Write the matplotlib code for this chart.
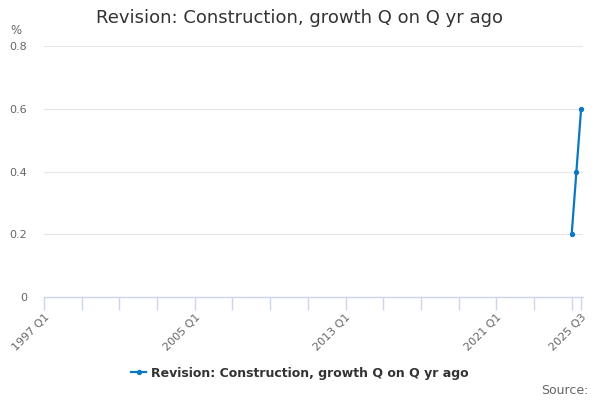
import matplotlib
matplotlib.use('Agg')
import matplotlib.pyplot as plt

# quarter categories on the axis
quarters = [f'{y} Q{q}' for y in range(1997, 2026) for q in range(1, 5)]
quarters = quarters[:quarters.index('2025 Q3') + 1]

# series data
periods = ['2025 Q1', '2025 Q2', '2025 Q3']
values = [0.2, 0.4, 0.6]

label_ticks = ['1997 Q1', '2005 Q1', '2013 Q1', '2021 Q1', '2025 Q3']
y_ticks = [0, 0.2, 0.4, 0.6, 0.8]

series_name = 'Revision: Construction, growth Q on Q yr ago'
line_color = '#0a78c2'
grey = '#666666'

fig = plt.figure(figsize=(6, 4), dpi=100)
ax = fig.add_axes([44 / 600, 103 / 400, 539 / 600, 251 / 400])

xs = [quarters.index(p) for p in periods]
ax.plot(xs, values, color=line_color, linewidth=1.6, marker='o', markersize=2.8,
        label=series_name, zorder=3, clip_on=False)

ax.set_xlim(0, len(quarters) - 0.6)
ax.set_ylim(0, 0.8)

# tick marks every 8 quarters plus the last one; labels on a subset
minor_pos = list(range(0, len(quarters), 8)) + [len(quarters) - 1]
ax.set_xticks(minor_pos, minor=True)
ax.set_xticks([quarters.index(t) for t in label_ticks])
ax.set_xticklabels(label_ticks, rotation=45, ha='right', rotation_mode='anchor',
                   fontsize=8, color=grey)
ax.tick_params(axis='x', which='both', length=9, color='#ccd6eb', width=1, pad=2)

ax.set_yticks(y_ticks)
ax.set_yticklabels(['0', '0.2', '0.4', '0.6', '0.8'], fontsize=8, color=grey)
ax.tick_params(axis='y', length=0, pad=12)
ax.yaxis.grid(True, color='#e6e6e6', linewidth=0.8)
ax.set_axisbelow(True)

for s in ['top', 'right', 'left']:
    ax.spines[s].set_visible(False)
ax.spines['bottom'].set_color('#ccd6eb')
ax.spines['bottom'].set_linewidth(1)

fig.text(0.5, 1 - 18 / 400, 'Revision: Construction, growth Q on Q yr ago',
         ha='center', va='center', fontsize=13, color='#333333')
fig.text(10 / 600, 1 - 31 / 400, '%', ha='left', va='center', fontsize=8.5, color=grey)

leg = fig.legend(loc='center', bbox_to_anchor=(0.5, 1 - 373 / 400), frameon=False,
                 prop={'weight': 'bold', 'size': 9}, handlelength=1.2,
                 handletextpad=0.4)
for t in leg.get_texts():
    t.set_color('#333333')

fig.text(588 / 600, 1 - 391 / 400, 'Source:', ha='right', va='center',
         fontsize=9, color=grey)

fig.savefig('out.png', dpi=100)
